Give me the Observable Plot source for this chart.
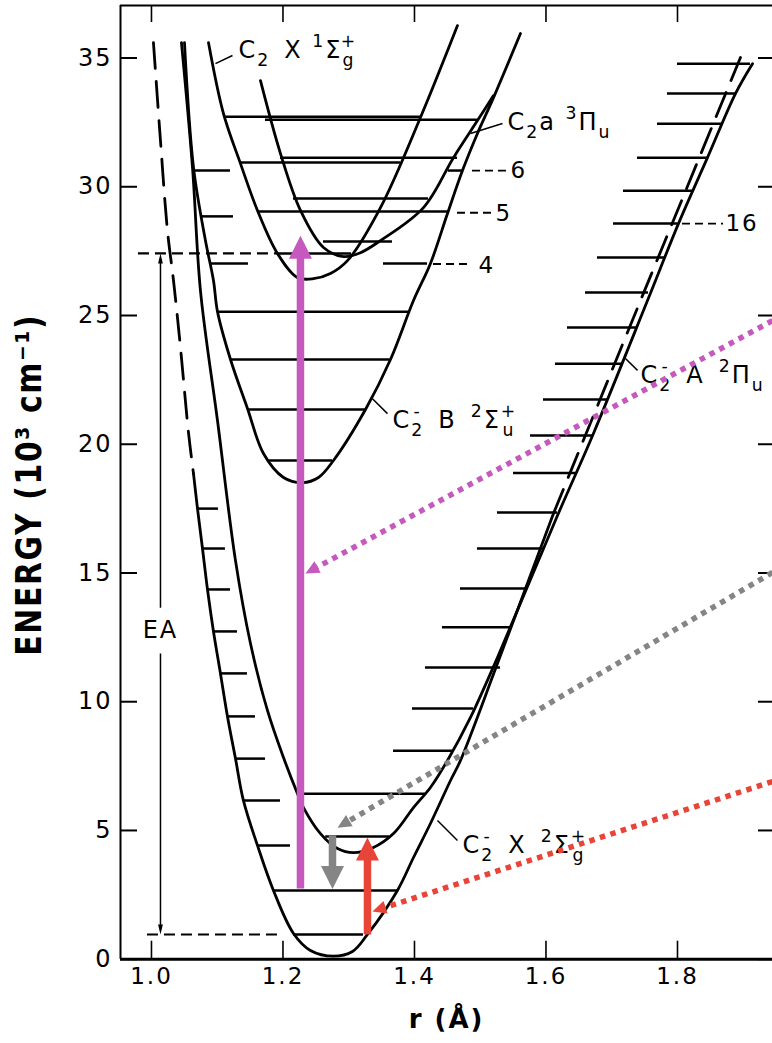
<!DOCTYPE html>
<html>
<head>
<meta charset="utf-8">
<script src="https://cdn.jsdelivr.net/npm/d3@7"></script>
<script src="https://cdn.jsdelivr.net/npm/@observablehq/plot@0.6"></script>
<style>
  html, body { margin: 0; padding: 0; background: #fff; overflow: hidden; }
  #chart svg text { letter-spacing: 2px; }
</style>
</head>
<body>
<div id="chart"></div>
<script>
// Axis ticks: internuclear distance r (Å) and energy (10^3 cm^-1)
const xTicks = [1.0, 1.2, 1.4, 1.6, 1.8];
const yTicks = [0, 5, 10, 15, 20, 25, 30, 35];

// Potential curves as [r, E] pairs
const anionXInner = [[1.003, 35.60], [1.0137, 31.79], [1.0243, 28.30], [1.0335, 26.36], [1.0441, 23.76], [1.0563, 20.45], [1.0639, 18.86]];
const anionX = [[1.0639, 18.86], [1.0700, 17.50], [1.0776, 15.95], [1.0852, 14.36], [1.0943, 12.73], [1.1049, 11.10], [1.1156, 9.43], [1.1278, 7.79], [1.1399, 6.16], [1.1612, 4.42], [1.1855, 2.67], [1.2160, 1.00], [1.2418, 0.34], [1.2768, 0.12], [1.3057, 0.30], [1.3285, 0.96], [1.3741, 2.67], [1.3985, 3.95], [1.4243, 5.27], [1.4548, 6.94], [1.4700, 7.72], [1.5262, 11.48], [1.6114, 17.31]];
const anionXOuter = [[1.6114, 17.31], [1.7437, 25.58], [1.8958, 35.02]];
const anionA = [[1.0456, 35.60], [1.0624, 30.75], [1.0745, 25.97], [1.1004, 20.92], [1.1278, 15.48], [1.1506, 12.26], [1.1764, 9.66], [1.2008, 7.83], [1.2221, 6.43], [1.2312, 5.89], [1.2570, 4.88], [1.2829, 4.30], [1.3072, 4.14], [1.3376, 4.34], [1.3681, 4.88], [1.3985, 5.89], [1.4243, 6.67], [1.4502, 7.72], [1.4852, 9.39], [1.5262, 11.72], [1.6175, 17.23], [1.6722, 20.42], [1.7544, 25.58], [1.8015, 28.57], [1.8456, 31.13], [1.8882, 33.62], [1.9141, 34.78]];
const anionB = [[1.0502, 35.60], [1.0639, 30.75], [1.0821, 27.91], [1.0943, 26.36], [1.1004, 25.15], [1.1202, 23.29], [1.1460, 21.39], [1.1703, 19.64], [1.2008, 18.71], [1.2297, 18.51], [1.2540, 18.71], [1.2768, 19.37], [1.3255, 21.35], [1.3635, 23.29], [1.3985, 25.58], [1.4243, 27.02], [1.4502, 28.96], [1.4730, 30.63], [1.4958, 32.07], [1.5202, 33.46], [1.5612, 35.95]];
const neutralX = [[1.0867, 35.60], [1.1095, 32.84], [1.1354, 30.90], [1.1612, 29.08], [1.1916, 27.41], [1.2221, 26.47], [1.2464, 26.43], [1.2722, 26.63], [1.2981, 27.13], [1.3483, 29.19], [1.4091, 32.69], [1.4654, 36.26]];
const neutralA = [[1.1658, 34.12], [1.1962, 31.29], [1.2266, 29.08], [1.2616, 27.64], [1.2920, 27.29], [1.3179, 27.44], [1.3483, 27.91], [1.4137, 29.19], [1.4593, 31.13], [1.4958, 32.57], [1.5202, 33.54]];

// Vibrational levels: [E, r_start, r_end]
const anionXLevels = [[0.96, 1.2160, 1.3224], [2.67, 1.1855, 1.3741], [4.42, 1.1612, 1.2114], [6.16, 1.1399, 1.1962], [7.79, 1.1278, 1.1734], [9.43, 1.1156, 1.1582], [11.10, 1.1049, 1.1460], [12.73, 1.0943, 1.1308], [14.36, 1.0852, 1.1202], [15.95, 1.0776, 1.1125], [17.50, 1.0700, 1.1019]];
const anionALevels = [[4.77, 1.2650, 1.3620], [6.43, 1.2221, 1.4167], [8.10, 1.3681, 1.4578], [9.74, 1.3970, 1.4897], [11.33, 1.4167, 1.5308], [12.89, 1.4426, 1.5460], [14.40, 1.4700, 1.5688], [15.95, 1.4958, 1.5962], [17.35, 1.5262, 1.6175], [18.88, 1.5506, 1.6479], [20.34, 1.5764, 1.6722], [21.74, 1.5962, 1.6935], [23.13, 1.6144, 1.7163], [24.53, 1.6327, 1.7392], [25.89, 1.6601, 1.7559], [27.25, 1.6783, 1.7817], [28.57, 1.7027, 1.8015], [29.85, 1.7179, 1.8243], [31.13, 1.7392, 1.8456], [32.45, 1.7696, 1.8700], [33.62, 1.7848, 1.8882], [34.78, 1.8000, 1.9110]];
const anionBLevels = [[19.37, 1.1764, 1.2753], [21.35, 1.1460, 1.3255], [23.29, 1.1202, 1.3635], [25.15, 1.1004, 1.3939], [27.02, 1.0897, 1.1475], [27.02, 1.3529, 1.4198], [28.85, 1.0776, 1.1247], [30.63, 1.0669, 1.1202], [30.63, 1.4517, 1.4745]];
const neutralLevels = [[32.72, 1.1125, 1.4091], [32.60, 1.1734, 1.4958], [31.13, 1.1962, 1.4654], [30.94, 1.1354, 1.3787], [29.54, 1.2160, 1.4213], [29.04, 1.1627, 1.4502], [27.87, 1.2616, 1.3665], [27.41, 1.1916, 1.3042]];
const eaLevels = [[27.41, 0.9802, 1.1916], [0.96, 0.9939, 1.1962]];
const leaderLines = [[27.00, 1.4289, 1.4882], [28.99, 1.4654, 1.5202], [30.63, 1.4882, 1.5414], [28.57, 1.8076, 1.8700]];
const levelNumbers = [{text: "4", r: 1.4973, E: 26.94}, {text: "5", r: 1.5232, E: 28.96}, {text: "6", r: 1.5460, E: 30.63}, {text: "16", r: 1.8730, E: 28.55}];

// State labels (markup: _x subscript, ^x superscript) and their pointer lines
const stateLabels = [
  {text: "C_2\u2002X ^1Σ_g^+", r: 1.1323, E: 35.29},
  {text: "C_2a ^3Π_u", r: 1.5414, E: 32.49},
  {text: "C_2^-\u2002A\u2002^2Π_u", r: 1.7437, E: 22.67},
  {text: "C_2^-\u2002B\u2002^2Σ^+_u", r: 1.3665, E: 20.92},
  {text: "C_2^-\u2002X\u2002^2Σ^+_g", r: 1.4730, E: 4.42}
];
const pointers = [
  [[1.0973, 34.78], [1.1232, 35.10]],
  [[1.4852, 32.07], [1.5338, 32.46]],
  [[1.7209, 23.33], [1.7392, 22.87]],
  [[1.3361, 21.77], [1.3589, 21.19]],
  [[1.4350, 5.39], [1.4654, 4.61]]
];

// Electron affinity arrows (split around the "EA" label)
const eaArrows = [{r1: 1.0137, E1: 13.65, r2: 1.0137, E2: 27.41}, {r1: 1.0137, E1: 11.87, r2: 1.0137, E2: 0.96}];

// Transitions: photodetachment (magenta), A→X emission (gray), X→A excitation (red)
const transitions = [
  {r1: 1.2266, E1: 2.75, r2: 1.2266, E2: 28.10},
  {r1: 1.2753, E1: 4.81, r2: 1.2753, E2: 2.73},
  {r1: 1.3285, E1: 0.96, r2: 1.3285, E2: 4.73}
];
const callouts = [
  {r1: 1.9445, E1: 24.80, r2: 1.2342, E2: 14.98},
  {r1: 1.9445, E1: 15.02, r2: 1.2829, E2: 5.11},
  {r1: 1.9445, E1: 6.90, r2: 1.3361, E2: 1.85}
];
const palette = ["#c659be", "#858585", "#e84438"];

// Layout
const W = 772, H = 1043, mL = 120, mR = 0, mT = 5, mB = 84.3;
const frameW = W - mL - mR, frameH = H - mT - mB;
const xDomain = [0.9529, 1.9445], yDomain = [0, 37.04];
const sx = Plot.scale({x: {domain: xDomain, range: [mL, W - mR]}});
const sy = Plot.scale({y: {domain: yDomain, range: [H - mB, mT]}});
const angleOf = d => Math.atan2(sx.apply(d.r2) - sx.apply(d.r1), sy.apply(d.E1) - sy.apply(d.E2)) * 180 / Math.PI;

// Filled arrowhead with its tip at the anchor point, pointing up before rotation
const tip = (len, half) => ({
  draw(context, size) {
    const r = Math.sqrt(size / Math.PI);
    context.moveTo(0, 0);
    context.lineTo(-half * r, len * r);
    context.lineTo(half * r, len * r);
    context.closePath();
  }
});

const pair = {x: d => d[0], y: d => d[1], curve: "catmull-rom", strokeWidth: 2.8};
const level = (data, extra = {}) => Plot.ruleY(data, {y: d => d[0], x1: d => d[1], x2: d => d[2], strokeWidth: 2.5, ...extra});

const chart = Plot.plot({
  width: W, height: H,
  marginLeft: mL, marginRight: mR, marginTop: mT, marginBottom: mB,
  x: {domain: xDomain, axis: null},
  y: {domain: yDomain, axis: null},
  color: {type: "identity"},
  style: {fontFamily: "'DejaVu Sans', sans-serif", fontSize: "22px", color: "#000", background: "#fff"},
  marks: [
    // frame and ticks
    Plot.ruleX([xDomain[0]], {strokeWidth: 2}),
    Plot.ruleY([yDomain[1]], {strokeWidth: 2}),
    Plot.ruleY([0], {strokeWidth: 3}),
    Plot.ruleX(xTicks, {insetBottom: frameH - 17, strokeWidth: 1.6}),
    Plot.ruleX(xTicks, {insetTop: frameH - 18, strokeWidth: 1.6}),
    Plot.ruleY(yTicks, {insetRight: frameW - 17, strokeWidth: 2}),
    Plot.ruleY(yTicks, {insetLeft: frameW - 14, strokeWidth: 2}),
    Plot.text(yTicks, {y: d => d, text: d => String(d), frameAnchor: "left", textAnchor: "end", dx: -8, fontSize: 24}),
    Plot.text(xTicks, {x: d => d, text: d => d.toFixed(1), frameAnchor: "bottom", dy: 25, fontSize: 23}),
    Plot.text(["ENERGY (10³ cm⁻¹)"], {y: [11.79], frameAnchor: "left", textAnchor: "start", rotate: -90, dx: -91, fontSize: 36, fontWeight: "bold"}),
    Plot.text(["r (Å)"], {frameAnchor: "bottom", dy: 69, fontSize: 26, fontWeight: "bold"}),

    // potential curves
    Plot.line(anionXInner, {...pair, strokeDasharray: "26 13"}),
    Plot.line(anionX, pair),
    Plot.line(anionXOuter, {...pair, curve: "linear", strokeDasharray: "26 13"}),
    Plot.line(anionA, pair),
    Plot.line(anionB, pair),
    Plot.line(neutralX, pair),
    Plot.line(neutralA, pair),

    // vibrational levels
    level(anionXLevels),
    level(anionALevels),
    level(anionBLevels),
    level(neutralLevels),
    level(eaLevels, {strokeDasharray: "11 6", strokeWidth: 2.2}),
    level(leaderLines, {strokeDasharray: "8 5", strokeWidth: 1.8}),
    Plot.text(levelNumbers, {x: "r", y: "E", text: "text", textAnchor: "start", fontSize: 23}),

    // electron affinity
    Plot.arrow(eaArrows, {x1: "r1", y1: "E1", x2: "r2", y2: "E2", headLength: 0, insetEnd: 6, strokeWidth: 1.5, strokeLinecap: "butt"}),
    Plot.dot(eaArrows, {x: "r2", y: "E2", symbol: tip(2.5, 0.6), r: 4, fill: "currentColor", rotate: angleOf}),
    Plot.text(["EA"], {x: [1.0137], y: [12.76], fontSize: 24, letterSpacing: 3}),

    // labels
    Plot.link(pointers, {x1: d => d[0][0], y1: d => d[0][1], x2: d => d[1][0], y2: d => d[1][1], strokeWidth: 1.5}),
    Plot.text(stateLabels, {x: "r", y: "E", text: "text", textAnchor: "start", fontSize: 24}),

    // coloured transitions and call-out arrows
    Plot.arrow(callouts, {x1: "r1", y1: "E1", x2: "r2", y2: "E2", headLength: 0, insetEnd: 10, stroke: (d, i) => palette[i], strokeWidth: 5.5, strokeDasharray: "5.5 5.5", strokeLinecap: "butt"}),
    Plot.dot(callouts, {x: "r2", y: "E2", symbol: tip(2.5, 1.2), r: 5.5, fill: (d, i) => palette[i], rotate: angleOf}),
    Plot.arrow(transitions, {x1: "r1", y1: "E1", x2: "r2", y2: "E2", headLength: 0, insetEnd: 16, stroke: (d, i) => palette[i], strokeWidth: 7.5, strokeLinecap: "butt"}),
    Plot.dot(transitions, {x: "r2", y: "E2", symbol: tip(2.5, 1.25), r: 9.2, fill: (d, i) => palette[i], rotate: angleOf})
  ]
});

document.getElementById("chart").appendChild(chart);

// Turn _x / ^x markup into subscripts and superscripts; stack a sub/sup pair
const SVGNS = "http://www.w3.org/2000/svg";
chart.querySelectorAll("text").forEach(t => {
  const src = t.textContent;
  if (!/[_^]/.test(src)) return;
  const fs = parseFloat(getComputedStyle(t).fontSize);
  const toks = [];
  for (let i = 0; i < src.length; i++) {
    const c = src[i];
    if ((c === "_" || c === "^") && i + 1 < src.length) toks.push({s: src[++i], k: c});
    else {
      const last = toks[toks.length - 1];
      if (last && last.k === "n") last.s += c; else toks.push({s: c, k: "n"});
    }
  }
  while (t.firstChild) t.removeChild(t.firstChild);
  let cur = 0;
  const spans = toks.map(tok => {
    const sp = document.createElementNS(SVGNS, "tspan");
    sp.textContent = tok.s;
    const shift = tok.k === "_" ? 0.32 * fs : tok.k === "^" ? -0.48 * fs : 0;
    sp.setAttribute("dy", shift - cur);
    cur = shift;
    if (tok.k !== "n") sp.setAttribute("font-size", 0.72 * fs);
    t.appendChild(sp);
    return {sp, tok};
  });
  for (let i = 1; i < spans.length; i++) {
    const a = spans[i - 1], b = spans[i];
    if (a.tok.k !== "n" && b.tok.k !== "n" && a.tok.k !== b.tok.k) {
      const w1 = a.sp.getComputedTextLength(), w2 = b.sp.getComputedTextLength();
      b.sp.setAttribute("dx", -(w1 + w2) / 2);
      if (spans[i + 1]) spans[i + 1].sp.setAttribute("dx", Math.abs(w1 - w2) / 2);
      i++;
    }
  }
});

// Fit the energy axis title to its span
const yTitle = [...chart.querySelectorAll("text")].find(t => t.textContent.startsWith("ENERGY"));
if (yTitle) { yTitle.setAttribute("textLength", 342); yTitle.setAttribute("lengthAdjust", "spacingAndGlyphs"); }
</script>
</body>
</html>
